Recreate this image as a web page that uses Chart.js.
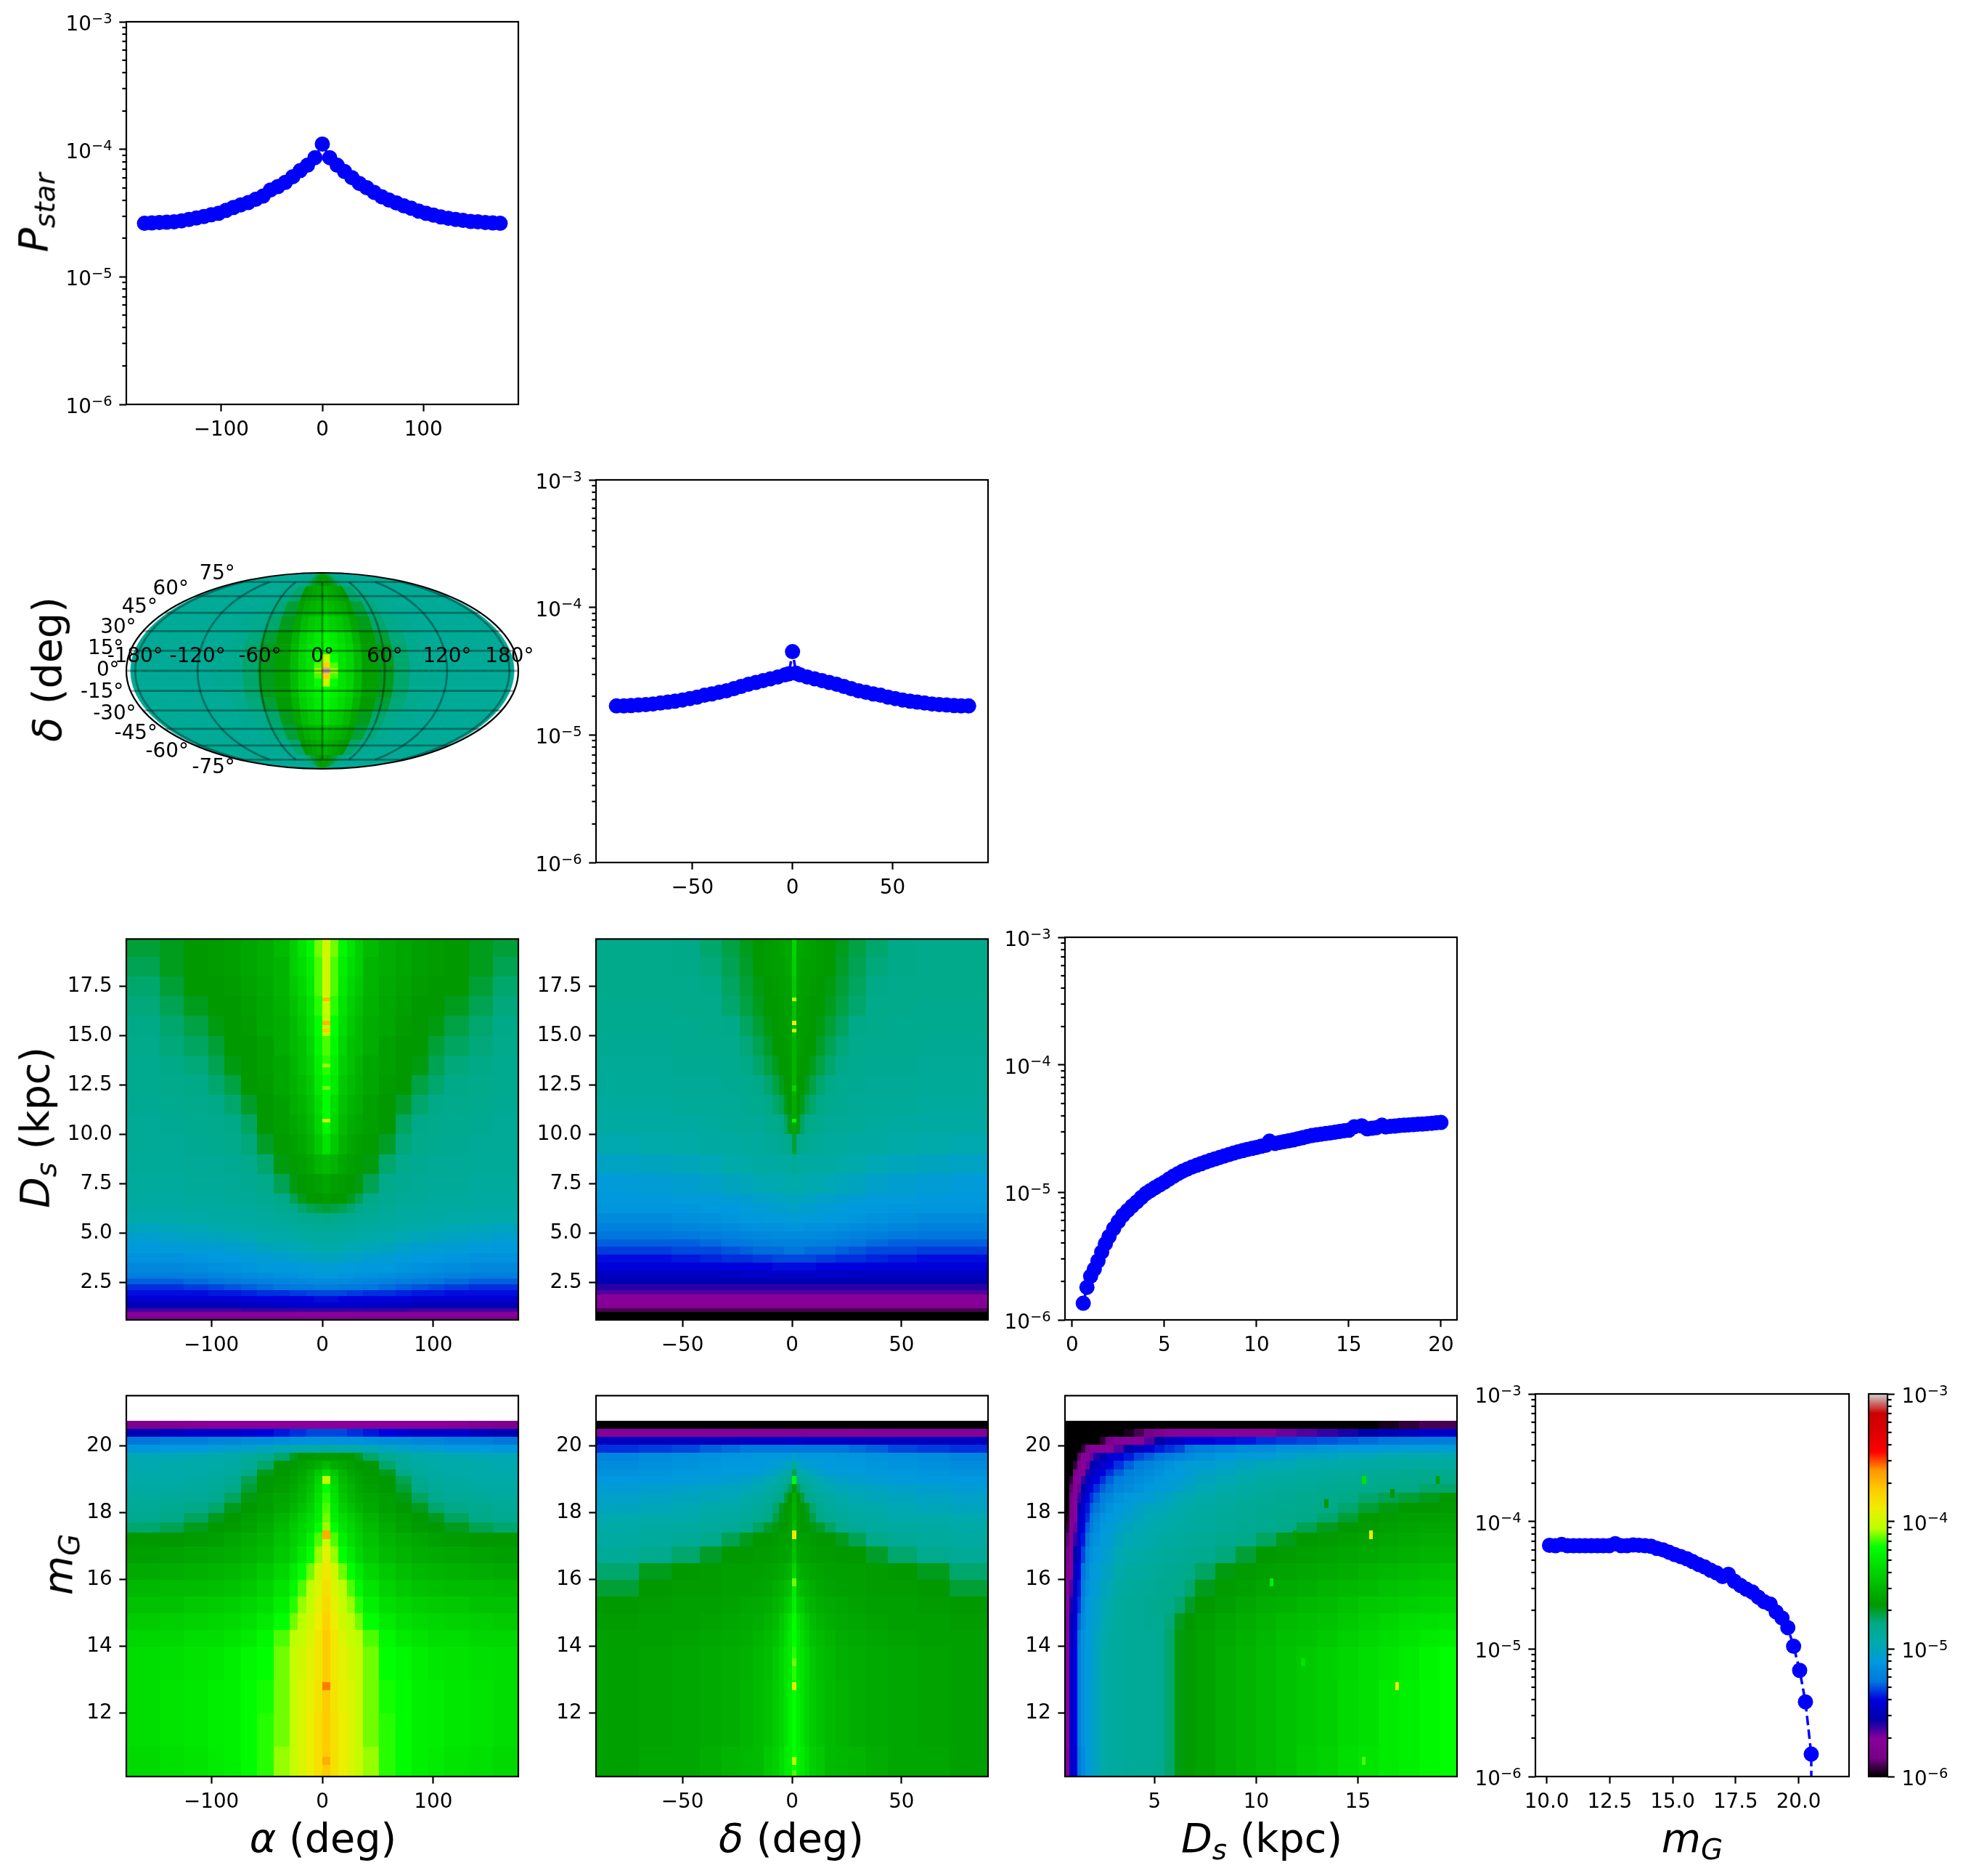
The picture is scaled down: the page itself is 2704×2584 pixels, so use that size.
<!DOCTYPE html>
<html>
<head>
<meta charset="utf-8">
<script src="https://cdn.jsdelivr.net/npm/chart.js@4"></script>
<style>
html,body{margin:0;padding:0;background:#fff;}
#page{position:relative;width:2704px;height:2584px;overflow:hidden;font-family:"DejaVu Sans";color:#000;}
canvas{position:absolute;}
.lab{position:absolute;font-size:55.6px;white-space:nowrap;line-height:1;transform:translate(-50%,-50%);}
.lab.v{transform:translate(-50%,-50%) rotate(-90deg);}
.lab sub{font-size:70%;line-height:0;vertical-align:-0.25em;}
</style>
</head>
<body>
<div id="page"></div>
<script>
// ---- 1D curves (probability per bin)
const alphaBins = [-176,-168.7,-161.3,-154,-146.7,-139.3,-132,-124.7,-117.3,-110,-102.7,-95.3,-88,-80.7,-73.3,-66,-58.7,-51.3,-44,-36.7,-29.3,-22,-14.7,-7.3,0,7.3,14.7,22,29.3,36.7,44,51.3,58.7,66,73.3,80.7,88,95.3,102.7,110,117.3,124.7,132,139.3,146.7,154,161.3,168.7,176];
const alphaProb = [2.63e-5,2.65e-5,2.67e-5,2.68e-5,2.7e-5,2.75e-5,2.82e-5,2.89e-5,2.97e-5,3.07e-5,3.15e-5,3.32e-5,3.5e-5,3.67e-5,3.82e-5,4.05e-5,4.3e-5,4.8e-5,5.1e-5,5.5e-5,6.1e-5,6.8e-5,7.5e-5,8.6e-5,1.1e-4,8.6e-5,7.5e-5,6.7e-5,6e-5,5.4e-5,5e-5,4.6e-5,4.25e-5,4e-5,3.8e-5,3.6e-5,3.45e-5,3.28e-5,3.15e-5,3.05e-5,2.95e-5,2.88e-5,2.82e-5,2.77e-5,2.72e-5,2.7e-5,2.67e-5,2.65e-5,2.63e-5];
const deltaBins = [-88,-84.3,-80.7,-77,-73.3,-69.7,-66,-62.3,-58.7,-55,-51.3,-47.7,-44,-40.3,-36.7,-33,-29.3,-25.7,-22,-18.3,-14.7,-11,-7.3,-3.7,-1.8,0,1.8,3.7,7.3,11,14.7,18.3,22,25.7,29.3,33,36.7,40.3,44,47.7,51.3,55,58.7,62.3,66,69.7,73.3,77,80.7,84.3,88];
const deltaProb = [1.69e-5,1.69e-5,1.7e-5,1.72e-5,1.73e-5,1.75e-5,1.78e-5,1.81e-5,1.84e-5,1.88e-5,1.93e-5,1.98e-5,2.05e-5,2.1e-5,2.16e-5,2.22e-5,2.31e-5,2.4e-5,2.5e-5,2.58e-5,2.67e-5,2.76e-5,2.85e-5,2.96e-5,3.02e-5,4.5e-5,3.05e-5,2.96e-5,2.85e-5,2.76e-5,2.67e-5,2.58e-5,2.5e-5,2.4e-5,2.31e-5,2.22e-5,2.16e-5,2.1e-5,2.05e-5,1.98e-5,1.93e-5,1.88e-5,1.84e-5,1.81e-5,1.78e-5,1.75e-5,1.73e-5,1.72e-5,1.7e-5,1.69e-5,1.69e-5];
const dsBins = [0.6,0.8,1,1.2,1.4,1.6,1.8,2,2.25,2.5,2.75,3,3.25,3.5,3.75,4,4.25,4.5,4.75,5,5.25,5.5,5.75,6,6.25,6.5,6.75,7,7.25,7.5,7.75,8,8.25,8.5,8.75,9,9.25,9.5,9.75,10,10.25,10.5,10.7,11,11.25,11.5,11.75,12,12.25,12.5,12.75,13,13.25,13.5,13.75,14,14.25,14.5,14.75,15,15.3,15.7,16,16.25,16.5,16.8,17,17.25,17.5,17.75,18,18.25,18.5,18.75,19,19.25,19.5,19.75,20];
const dsProb = [1.35e-6,1.8e-6,2.2e-6,2.5e-6,2.9e-6,3.4e-6,3.95e-6,4.5e-6,5.2e-6,5.9e-6,6.6e-6,7.2e-6,7.8e-6,8.4e-6,9.1e-6,9.8e-6,1.035e-5,1.09e-5,1.145e-5,1.2e-5,1.27e-5,1.34e-5,1.405e-5,1.47e-5,1.525e-5,1.58e-5,1.63e-5,1.68e-5,1.73e-5,1.78e-5,1.83e-5,1.88e-5,1.93e-5,1.98e-5,2.03e-5,2.08e-5,2.125e-5,2.17e-5,2.21e-5,2.25e-5,2.3e-5,2.34e-5,2.52e-5,2.42e-5,2.46e-5,2.5e-5,2.54e-5,2.58e-5,2.63e-5,2.68e-5,2.74e-5,2.79e-5,2.83e-5,2.86e-5,2.89e-5,2.92e-5,2.96e-5,3e-5,3.04e-5,3.07e-5,3.27e-5,3.32e-5,3.15e-5,3.18e-5,3.21e-5,3.36e-5,3.26e-5,3.29e-5,3.31e-5,3.34e-5,3.36e-5,3.38e-5,3.4e-5,3.42e-5,3.43e-5,3.46e-5,3.48e-5,3.51e-5,3.53e-5];
const magBins = [10.11,10.35,10.59,10.82,11.06,11.3,11.53,11.77,12.01,12.24,12.48,12.72,12.95,13.19,13.43,13.66,13.9,14.14,14.37,14.61,14.85,15.08,15.32,15.56,15.79,16.03,16.27,16.5,16.74,16.98,17.21,17.45,17.69,17.92,18.16,18.4,18.63,18.87,19.11,19.34,19.57,19.8,20.04,20.27,20.5,20.52];
const magProb = [6.5e-5,6.45e-5,6.6e-5,6.45e-5,6.45e-5,6.45e-5,6.45e-5,6.45e-5,6.45e-5,6.45e-5,6.45e-5,6.7e-5,6.45e-5,6.45e-5,6.55e-5,6.5e-5,6.45e-5,6.4e-5,6.15e-5,6e-5,5.75e-5,5.5e-5,5.3e-5,5.1e-5,4.85e-5,4.6e-5,4.4e-5,4.15e-5,3.95e-5,3.7e-5,3.85e-5,3.4e-5,3.15e-5,2.95e-5,2.8e-5,2.55e-5,2.35e-5,2.25e-5,1.95e-5,1.75e-5,1.47e-5,1.05e-5,6.8e-6,3.85e-6,1.5e-6,1e-7];

// ---- 2D maps: cell edges and cell levels.
// A level is the percent position on the log colour range: 0 = 1e-6, 100 = 1e-3.
const alphaEdges = [-176,-146.7,-124.7,-102.7,-88,-73.3,-58.7,-44,-29.3,-22,-14.7,-7.3,0,7.3,14.7,22,29.3,36.7,51.3,66,80.7,95.3,110,132,154,176];
const deltaEdges = [-89.5,-70,-55,-42,-32,-24,-18,-13,-9,-6,-3.8,-1.9,0,1.9,3.8,5.7,7.9,10.9,14.9,19.9,25.9,33.9,43.9,56.9,71.9,89.5];
const dsRowsA = [19.9,19,18,17,16,15,14,13,12,11,10,9,8,7,6.5,6,5.5,5,4.5,4,3.5,3,2.7,2.4,2.1,1.8,1.5,1.2,1,0.8,0.6];
const dsRowsB = [19.9,19,18,17,16,15,14,13,12,11,10,9,8,7,6.5,6,5.5,5.1,4.7,4.3,3.9,3.5,3.1,2.7,2.4,2.1,1.9,1.5,1.2,1,0.6];
const magRows = [20.74,20.5,20.27,20.03,19.8,19.56,19.3,19.1,18.85,18.6,18.3,18,17.7,17.4,17,16.5,16,15.5,15,14.5,14,13,12,11,10.11];
const dsCols = [0.6,0.8,1,1.2,1.4,1.6,1.8,2,2.3,2.6,3,3.5,4,4.5,5,5.5,6,6.5,7,8,9,10,11,12,13,14,15,16,17,18,19,19.87];
const latEdges = [90,70,55,42,30,20,12,6,2,-2,-6,-12,-20,-30,-42,-55,-70,-90];

const levelsAlphaDs = [
[43,44,45,45.5,46,47,48,50,53,56,59,63,67,63,59,56,53,50,48,47,46,45.5,45,44,43],
[42,44,45,45.5,46,47,48,49,53,55,58,62,67,62,58,55,53,49,48,47,46,45.5,45,44,42],
[41,43,45,45,45.5,46.5,47.5,49,52,54,57,62,67,62,57,54,52,49,47.5,46.5,45.5,45,45,43,41],
[40.5,42,44,45,45,46,47,48.5,51,53,56,61,66,61,56,53,51,48.5,47,46,45,45,44,42,40.5],
[40,41,42.5,44.5,45,45.5,47,48,50,52,55,60,65,60,55,52,50,48,47,45.5,45,44.5,42.5,41,40],
[39.5,40.5,41.5,43,45,45,46,48,50,51,54,59,62,59,54,51,50,48,46,45,45,43,41.5,40.5,39.5],
[39,40,40.5,42,44.5,45,46,47,49,51,53,58,61,58,53,51,49,47,46,45,44.5,42,40.5,40,39],
[39,39.5,40,41,42.5,45,45.5,47,48.5,50,52,57,60,57,52,50,48.5,47,45.5,45,42.5,41,40,39.5,39],
[38.5,39,39.5,40,41,43.5,45,46,48,49,51,55,60,55,51,49,48,46,45,43.5,41,40,39.5,39,38.5],
[38,38.5,39,39.5,40,41.5,45,46,47,48,50,54,59,54,50,48,47,46,45,41.5,40,39.5,39,38.5,38],
[38,38,38.5,39,39.5,40.5,43.5,45.5,46,47,49,52,56,52,49,47,46,45.5,43.5,40.5,39.5,39,38.5,38,38],
[37.5,37.5,38,38,38.5,39.5,41,44.5,45.5,46,47,49,50,49,47,46,45.5,44.5,41,39.5,38.5,38,38,37.5,37.5],
[37,37,37.5,37.5,38,38.5,39.5,42,44.5,45,45.5,46,47,46,45.5,45,44.5,42,39.5,38.5,38,37.5,37.5,37,37],
[36.5,36.5,37,37,37.5,38,38.5,40,42,44,45,45,45.5,45,45,44,42,40,38.5,38,37.5,37,37,36.5,36.5],
[36,36,36.5,36.5,37,37,38,39,40,41,42,42.5,43,42.5,42,41,40,39,38,37,37,36.5,36.5,36,36],
[35,35,35.5,36,36,36.5,37,37.5,38,38.5,39,39.5,40,39.5,39,38.5,38,37.5,37,36.5,36,36,35.5,35,35],
[33,33.5,34,34.5,35,35.5,36,36.5,37,37.5,37.5,38,38,38,37.5,37.5,37,36.5,36,35.5,35,34.5,34,33.5,33],
[31.5,32,32.5,33,33.5,34,35,35,35.5,36,36,36.5,36.5,36.5,36,36,35.5,35,35,34,33.5,33,32.5,32,31.5],
[30,30.5,31,31,31.5,32,33,33.5,34,34,34.5,35,35,35,34.5,34,34,33.5,33,32,31.5,31,31,30.5,30],
[29,29,29.5,30,30,30.5,31,31.5,32,32,32.5,33,33,33,32.5,32,32,31.5,31,30.5,30,30,29.5,29,29],
[27.5,27.5,28,28.5,29,29.5,30,30,30,30.5,30.5,31,31,31,30.5,30.5,30,30,30,29.5,29,28.5,28,27.5,27.5],
[26,26,26.5,27,27.5,28,28.5,29,29,29.5,29.5,30,30,30,29.5,29.5,29,29,28.5,28,27.5,27,26.5,26,26],
[24,24,24.5,25,25.5,26,26.5,27,27.5,27.5,28,28,28,28,28,27.5,27.5,27,26.5,26,25.5,25,24.5,24,24],
[22,22,22.5,23,23.5,24,24.5,25,25.5,25.5,25.5,26,26,26,25.5,25.5,25.5,25,24.5,24,23.5,23,22.5,22,22],
[20.5,20.5,20.5,21,21,21.5,22,22,22.5,22.5,23,23,23,23,23,22.5,22.5,22,22,21.5,21,21,20.5,20.5,20.5],
[19,19,19,19,19,19.5,20,20,20,20,20,20.5,20.5,20.5,20,20,20,20,20,19.5,19,19,19,19,19],
[16,16,16,16,16.5,17,17,17.5,18,18,18,18,18,18,18,18,18,17.5,17,17,16.5,16,16,16,16],
[12.5,12.5,12.5,12.5,12.5,13,13,13,13,13,13,13,13,13,13,13,13,13,13,13,12.5,12.5,12.5,12.5,12.5],
[10,10,10,10,10,10,10,10,10,10,10,10,10,10,10,10,10,10,10,10,10,10,10,10,10],
[7,7,7,7,7,7,7,7,7,7.5,7.5,7.5,7.5,7.5,7.5,7.5,7,7,7,7,7,7,7,7,7]
];
const levelsDeltaDs = [
[39.5,39.5,40,41,42.5,44,45,45.5,46,46.5,47,47,54,47,47,46.5,46,45.5,45,44,42.5,41,40,39.5,39.5],
[39.5,39.5,40,40.5,42,43.5,45,45.5,46,46,46.5,47,53,47,46.5,46,46,45.5,45,43.5,42,40.5,40,39.5,39.5],
[39.5,39.5,39.5,40,41.5,43,44.5,45,45.5,46,46,46.5,52,46.5,46,46,45.5,45,44.5,43,41.5,40,39.5,39.5,39.5],
[39,39,39.5,39.5,41,42.5,44,45,45,45.5,46,46,51,46,46,45.5,45,45,44,42.5,41,39.5,39.5,39,39],
[39,39,39,39.5,40,41.5,43,44.5,45,45.5,45.5,46,50,46,45.5,45.5,45,44.5,43,41.5,40,39.5,39,39,39],
[38.5,38.5,39,39,39.5,40.5,42,43.5,45,45,45.5,46,49,46,45.5,45,45,43.5,42,40.5,39.5,39,39,38.5,38.5],
[38,38,38.5,38.5,39,40,41,42.5,44,45,45,45.5,49,45.5,45,45,44,42.5,41,40,39,38.5,38.5,38,38],
[37.5,37.5,38,38,38.5,39,40,41,42.5,44,45,45,49,45,45,44,42.5,41,40,39,38.5,38,38,37.5,37.5],
[37,37,37.5,37.5,38,38.5,39,40,41,42,44,45,48,45,44,42,41,40,39,38.5,38,37.5,37.5,37,37],
[36,36,36.5,37,37.5,38,38,39,39.5,40,41.5,44,47,44,41.5,40,39.5,39,38,38,37.5,37,36.5,36,36],
[34.5,35,35.5,36,36.5,37,37,37.5,38,38.5,39,40,43,40,39,38.5,38,37.5,37,37,36.5,36,35.5,35,34.5],
[32.5,33,33.5,34,35,35.5,36,36,36.5,36.5,36.5,37,37.5,37,36.5,36.5,36.5,36,36,35.5,35,34,33.5,33,32.5],
[30.5,31,31.5,32,33,33.5,34,34.5,34.5,34.5,35,35,35,35,35,34.5,34.5,34.5,34,33.5,33,32,31.5,31,30.5],
[30,30,30.5,30.5,31,31.5,32,32,32.5,32.5,33,33,33,33,33,32.5,32.5,32,32,31.5,31,30.5,30.5,30,30],
[29.5,29.5,29.5,30,30,30.5,31,31,31.5,31.5,31.5,32,32,32,31.5,31.5,31.5,31,31,30.5,30,30,29.5,29.5,29.5],
[28,28,28.5,29,29.5,30,30,30.5,30.5,30.5,30.5,31,31,31,30.5,30.5,30.5,30.5,30,30,29.5,29,28.5,28,28],
[26.5,26.5,27,27.5,28,28.5,29,29,29,29,29.5,29.5,29.5,29.5,29.5,29,29,29,29,28.5,28,27.5,27,26.5,26.5],
[25,25,25.5,26,26.5,27,27.5,27.5,28,28,28,28,28,28,28,28,28,27.5,27.5,27,26.5,26,25.5,25,25],
[24,24,24,24.5,25,25.5,26,26,26.5,26.5,26.5,26.5,26.5,26.5,26.5,26.5,26.5,26,26,25.5,25,24.5,24,24,24],
[22.5,22.5,23,23,23.5,24,24.5,24.5,24.5,24.5,25,25,25,25,25,24.5,24.5,24.5,24.5,24,23.5,23,23,22.5,22.5],
[20.5,20.5,21,21.5,22,22,22.5,22.5,23,23,23,23,23,23,23,23,23,22.5,22.5,22,22,21.5,21,20.5,20.5],
[19.5,19.5,19.5,19.5,20,20,20,20,20.5,20.5,20.5,20.5,20.5,20.5,20.5,20.5,20.5,20,20,20,20,19.5,19.5,19.5,19.5],
[17.5,17.5,17.5,17.5,17.5,18,18,18,18,18,18,18,18,18,18,18,18,18,18,18,17.5,17.5,17.5,17.5,17.5],
[15.5,15.5,15.5,15.5,15.5,15.5,15.5,15.5,15.5,15.5,15.5,15.5,15.5,15.5,15.5,15.5,15.5,15.5,15.5,15.5,15.5,15.5,15.5,15.5,15.5],
[13.5,13.5,13.5,13.5,13.5,13.5,13.5,13.5,13.5,13.5,13.5,13.5,13.5,13.5,13.5,13.5,13.5,13.5,13.5,13.5,13.5,13.5,13.5,13.5,13.5],
[12,12,12,12,12,12,12,12,12,12,12,12,12,12,12,12,12,12,12,12,12,12,12,12,12],
[10,10,10,10,10,10,10,10,10,10,10,10,10,10,10,10,10,10,10,10,10,10,10,10,10],
[8.5,8.5,8.5,8.5,8.5,8.5,8.5,8.5,8.5,8.5,8.5,8.5,8.5,8.5,8.5,8.5,8.5,8.5,8.5,8.5,8.5,8.5,8.5,8.5,8.5],
[3,3,3,3,3,3,3,3,3,3,3,3,3,3,3,3,3,3,3,3,3,3,3,3,3],
[0,0,0,0,0,0,0,0,0,0,0,0,0,0,0,0,0,0,0,0,0,0,0,0,0]
];
const levelsAlphaMag = [
[7,8,9,10,10,10,10,10,10,10,10,10,10,10,10,10,10,10,10,10,10,10,9,8,7],
[16,17,18,18,18,19,20,21,22,22,23,23,23,23,23,22,22,21,20,19,18,18,18,17,16],
[25,26,26,27,27,28,28,28.5,29,29,29,29,29,29,29,29,29,28.5,28,28,27,27,26,26,25],
[29.5,30,30,31,31.5,32,33,34,34.5,35,35,35.5,36,35.5,35,35,34.5,34,33,32,31.5,31,30,30,29.5],
[34,34,34.5,35,35.5,37,38.5,41,44,45,45,45.5,45.5,45.5,45,45,44,41,38.5,37,35.5,35,34.5,34,34],
[34.5,35,35,35.5,36,38,41,45,45,46,47,48,50,48,47,46,45,45,41,38,36,35.5,35,35,34.5],
[35,35,35.5,36,37,40,44,45,46,47,49,52,55,52,49,47,46,45,44,40,37,36,35.5,35,35],
[35.5,35.5,36,37,38.5,42,45,45.5,46.5,48,50,54,66,54,50,48,46.5,45.5,45,42,38.5,37,36,35.5,35.5],
[36,36,37,38,40,43,45,46,47,49,51,55,60,55,51,49,47,46,45,43,40,38,37,36,36],
[37,37.5,38,39,41.5,44.5,46,47,48,49.5,52,56,61,56,52,49.5,48,47,46,44.5,41.5,39,38,37.5,37],
[38,39,40,41,44,45,46,47.5,49,51,53,57,62,57,53,51,49,47.5,46,45,44,41,40,39,38],
[39,40,41.5,44,45,46,47,49,51,53,55,58,63,58,55,53,51,49,47,46,45,44,41.5,40,39],
[41,42,44,45,45.5,46.5,48,50,52,54,56,60,64,60,56,54,52,50,48,46.5,45.5,45,44,42,41],
[45,45,45.5,46,47,48,49,51,53,55,58,62,66,62,58,55,53,51,49,48,47,46,45.5,45,45],
[46,46.5,47,47.5,48,49,50,52,54,57,60,64,69,64,60,57,54,52,50,49,48,47.5,47,46.5,46],
[47.5,48,48.5,49,49.5,50.5,52,54,57,60,63,67,71,67,63,60,57,54,52,50.5,49.5,49,48.5,48,47.5],
[49.5,50,50,50.5,51,52,53.5,56,59,62,65,68,72,68,65,62,59,56,53.5,52,51,50.5,50,50,49.5],
[51,51,52,52.5,53,54,55,58,61,64,66,69,73,69,66,64,61,58,55,54,53,52.5,52,51,51],
[52.5,53,53.5,54,54.5,55.5,57,60,63,65,67,70,74,70,67,65,63,60,57,55.5,54.5,54,53.5,53,52.5],
[54,54,55,55,56,57,59,62,65,66,68,71,75,71,68,66,65,62,59,57,56,55,55,54,54],
[55,55.5,56,56.5,57.5,59,60,63,66,67,69,71,75,71,69,67,66,63,60,59,57.5,56.5,56,55.5,55],
[55,56,56.5,57.5,58,59.5,60.5,63,66,68,69.5,71.5,75,71.5,69.5,68,66,63,60.5,59.5,58,57.5,56.5,56,55],
[55,56,56.5,57.5,58,59.5,61,63,66,68,70,72,75,72,70,68,66,63,61,59.5,58,57.5,56.5,56,55],
[54.5,55.5,56,57,58,59.5,61,64,66,68,70,72,75,72,70,68,66,64,61,59.5,58,57,56,55.5,54.5]
];
const levelsDeltaMag = [
[0,0,0,0,0,0,0,0,0,0,0,0,0,0,0,0,0,0,0,0,0,0,0,0,0],
[9,9,9,9,9,9,9,9,9,9,9,9,9,9,9,9,9,9,9,9,9,9,9,9,9],
[17,17,17,17,17,17.5,17.5,17.5,17.5,17.5,18,18,18,18,18,17.5,17.5,17.5,17.5,17.5,17,17,17,17,17],
[22,22.5,23,24,24.5,25,25,25,25,25,25,25,25,25,25,25,25,25,25,25,24.5,24,23,22.5,22],
[27,28,28.5,29,29.5,29.5,30,30,30,30,30,30,32,30,30,30,30,30,30,29.5,29.5,29,28.5,28,27],
[28,28.5,29,29.5,30,30,30,30.5,31,31.5,32,33,38,33,32,31.5,31,30.5,30,30,30,29.5,29,28.5,28],
[29,29.5,30,30,30.5,30.5,31,32,33,34,35,36,42,36,35,34,33,32,31,30.5,30.5,30,30,29.5,29],
[30,30,30.5,31,31.5,32,33,34,35,36,37,38,60,38,37,36,35,34,33,32,31.5,31,30.5,30,30],
[31,31.5,32,32.5,33,33.5,34.5,35.5,37,38,40,42,46,42,40,38,37,35.5,34.5,33.5,33,32.5,32,31.5,31],
[32,32.5,33,33.5,34,35,36,37,39,40,43,45,48,45,43,40,39,37,36,35,34,33.5,33,32.5,32],
[33,33.5,34,35,35.5,36,37.5,39,41,44,45,45.5,49,45.5,45,44,41,39,37.5,36,35.5,35,34,33.5,33],
[34.5,35,35,36,36.5,37.5,38.5,40,42.5,44.5,45,46,49,46,45,44.5,42.5,40,38.5,37.5,36.5,36,35,35,34.5],
[35.5,36,36.5,37,38,39.5,41.5,43.5,44.5,45,45,46,50,46,45,45,44.5,43.5,41.5,39.5,38,37,36.5,36,35.5],
[36.5,37,38,39.5,42,44,45,45,45.5,46,46,46,50,46,46,46,45.5,45,45,44,42,39.5,38,37,36.5],
[38,39,41,43.5,45,45,45.5,45.5,46,46.5,46.5,47,51,47,46.5,46.5,46,45.5,45.5,45,45,43.5,41,39,38],
[41,44,45,45.5,46,46,46,46.5,47,47.5,48,49,54,49,48,47.5,47,46.5,46,46,46,45.5,45,44,41],
[43,45,45.5,45.5,46,46,46.5,47,48,49,50,51,57,51,50,49,48,47,46.5,46,46,45.5,45.5,45,43],
[45,45.5,46,46,46.5,47,47.5,48,49,50,52,53,58,53,52,50,49,48,47.5,47,46.5,46,46,45.5,45],
[45.5,46,46,46.5,47,47.5,48,49,50,52,54,56,60,56,54,52,50,49,48,47.5,47,46.5,46,46,45.5],
[46,46,46.5,47,47.5,48,49,50,51,53,55,57,60,57,55,53,51,50,49,48,47.5,47,46.5,46,46],
[46,46.5,47,47.5,48,48.5,49.5,50.5,52,54,56,57,61,57,56,54,52,50.5,49.5,48.5,48,47.5,47,46.5,46],
[46,46.5,47,47.5,48,49,50,51,52.5,54,56,58,60,58,56,54,52.5,51,50,49,48,47.5,47,46.5,46],
[46,46.5,47,47.5,48,49,50,51,52.5,54,56,58,60,58,56,54,52.5,51,50,49,48,47.5,47,46.5,46],
[46,47,47,48,49,49.5,50,52,53,55,57,58,60,58,57,55,53,52,50,49.5,49,48,47,47,46]
];
const levelsDsMag = [
[0,0,0,0,0,0,0,0,0,0,0,0,0,0,0,0,0,0,0,0,0,0,0,0,0,0,0,1,2,3,3],
[0,0,0,0,0,0,0,0,0,0,0,1,3,5,7,9,10,10,10,10,10,10,11,12,13,14,15,16,17,18,18],
[0,0,0,0,0,0,0,0,2,6,9,9,10,12,15,17,18,20,20,20.5,21,22,22.5,23,23.5,24,24.5,25,25.5,25.5,26],
[0,0,0,0,2,7,10,10,10,10,12,15,17,19,21,22,23,25,26,27,28,28,29,29,29.5,30,30,30,30.5,30.5,31],
[0,0,0,4,9,10,11,14,16,18,20,21,23,24,25,26,27,28,29,30,31,31,32,33,33,34,34,35,35,35,35],
[0,0,2,8,10,11,15,17,18,20,22,24,26,27,28,29,30,31,31,32,33,34,34,35,35,35.5,36,36,36.5,37,37],
[0,0,6,10,10,14,17,19,20,22,24,26,27,28,29,30,30.5,31,32,33,34,35,35.5,36,36.5,37,38,38,38.5,39,39],
[0,2,9,10,13,17,19,20,22,24,26,27,28,29,30,30.5,31,32,33,34,35,36,36.5,37,37.5,38,38.5,39,39.5,39.5,40],
[0,4,9,11,15,18,20,22,24,25,27,28,29,30,31,31,32,33,34,35,36,37,37.5,38,38.5,39,39.5,40,40,41,41],
[0,5,10,13,17,20,22,24,26,27,29,30,30.5,31,32,33,34,34.5,35.5,36.5,37,38,38.5,39,39.5,40,41,42,43,44,45],
[0,7,10,15,19,21,24,25,27,29,30,31,32,33,33.5,34,35,35.5,36,37,38,38.5,39,39.5,40,41,43,44.5,45,45,45.5],
[1,8,10,17,19,22,25,27,29,30,31,32,33,34,34.5,35,35.5,36,37,37.5,38,39,39.5,40,41,43,45,45.5,46,46,46.5],
[2,9,11,18,20,24,26,28,30,30.5,32,33,34,34.5,35,35.5,36,36.5,37,38,38.5,39,40,42,44,45,45.5,46,46.5,47,47],
[4,10,13,19,21,25,28,29,30.5,31,33,34,34.5,35,36,36.5,37,37.5,38,39,40,41.5,44,45,45.5,46,46.5,47,47.5,48,48],
[6,10,15,19,23,27,29,30,31,32,34,35,35.5,36,37,37.5,38,38.5,39,40.5,43,45,45.5,46,46.5,47,47.5,48,48.5,49,49],
[8,10,17,20,25,28,30,30.5,32,33,35,36,36.5,37,38,38.5,39,40,41.5,44.5,45.5,46,46.5,47,47.5,48,49,49.5,50,50.5,51],
[9,12,18,21,26,29,30,31,33,34,36,37,37.5,38,38.5,39,39.5,41,44,45.5,46,47,47.5,48,49,49.5,50,51,51.5,52,52.5],
[10,14,19,22,27,30,30.5,32,33.5,35,37,37.5,38,38.5,39,39.5,41,43.5,45,46,47,48,48.5,49.5,50,51,52,52.5,53,53.5,54],
[10,16,19,24,28,30,31,32,34,35.5,37,37.5,38,38.5,39,40.5,44,45,46,47,48,49,50,50.5,51,52,53,54,55,55.5,56],
[10,17,19.5,25,29,30,31,33,34.5,36,37,37.5,38,38,38.5,41,44.5,45.5,46.5,47.5,48.5,49.5,50.5,51,52,53,54,55,56,57,58],
[10,18,20,26,29,30,31,33,35,36,37,37.5,38,38,38.5,41,44.5,45.5,46.5,48,49,50,51,52,53,54,55,56,57,58.5,60],
[10,18,20,26,29,30,31.5,33,35,36,37,37.5,38,38,38.5,41,44.5,45.5,46.5,48,49,50,51,52,53,54.5,55.5,57,58,59,60],
[10,18,20,26,29,30,31.5,33,35,36,37,37.5,38,38,38.5,41,44.5,45.5,46.5,48,49,50,51,52,53,54.5,55.5,57,58,59,60],
[9,18,19,25,28,30,31.5,33,35,36,37,37.5,38,38,38.5,41,44.5,45.5,46.5,48,49,50,51,52.5,53.5,55,56,57,58,59,60]
];
const levelsSky = [
[38,38,38,38,38,38,38.5,39.5,41,43,44,45,46,45,44,43,41,39.5,38.5,38,38,38,38,38,38],
[38,38,38,38,38,38.5,39.5,41,45,46,47,48,49,48,47,46,45,41,39.5,38.5,38,38,38,38,38],
[38,38,38,38,38,39,40.5,43,46,48,49,50,51,50,49,48,46,43,40.5,39,38,38,38,38,38],
[38,38,38,38,38.5,39.5,41,44,47,50,52,53,55,53,52,50,47,44,41,39.5,38.5,38,38,38,38],
[38,38,38,38,39,40.5,43,45.5,49,53,55,57,59,57,55,53,49,45.5,43,40.5,39,38,38,38,38],
[38,38,38,38.5,39,41,44,46,50,54,56,58,60,58,56,54,50,46,44,41,39,38.5,38,38,38],
[38,38,38,38.5,39,41,44,46,50,54,56,60,66,60,56,54,50,46,44,41,39,38.5,38,38,38],
[38,38,38,38.5,39,41,44,46,50,54,56,62,74,62,56,54,50,46,44,41,39,38.5,38,38,38],
[38,38,38,38.5,39,41,44,46,50,54,56,64,99,64,56,54,50,46,44,41,39,38.5,38,38,38],
[38,38,38,38.5,39,41,44,46,50,54,56,62,74,62,56,54,50,46,44,41,39,38.5,38,38,38],
[38,38,38,38.5,39,41,44,46,50,54,56,60,66,60,56,54,50,46,44,41,39,38.5,38,38,38],
[38,38,38,38.5,39,41,44,46,50,54,56,58,60,58,56,54,50,46,44,41,39,38.5,38,38,38],
[38,38,38,38,39,40.5,43,45.5,49,53,55,57,59,57,55,53,49,45.5,43,40.5,39,38,38,38,38],
[38,38,38,38,38.5,39.5,41,44,47,50,52,53,55,53,52,50,47,44,41,39.5,38.5,38,38,38,38],
[38,38,38,38,38,39,40.5,43,46,48,49,50,51,50,49,48,46,43,40.5,39,38,38,38,38,38],
[38,38,38,38,38,38.5,39.5,41,45,46,47,48,49,48,47,46,45,41,39.5,38.5,38,38,38,38,38],
[38,38,38,38,38,38,38.5,39.5,41,43,44,45,46,45,44,43,41,39.5,38.5,38,38,38,38,38,38]
];
// single bright cells: [x from, x to, y from, y to, level]
const spikesAlphaDs = [[0,7.3,10.6,10.8,66],[0,7.3,12.25,12.45,63],[0,7.3,13.4,13.6,64],[0,7.3,15.15,15.35,75],[0,7.3,15.55,15.75,77],[0,7.3,16.75,16.95,77]];
const spikesDeltaDs = [[0,1.9,10.6,10.8,60],[0,1.9,12.2,12.5,54],[0,1.9,15.15,15.35,66],[0,1.9,15.55,15.75,70],[0,1.9,16.75,16.95,65]];
const spikesAlphaMag = [[0,7.3,10.46,10.7,78],[0,7.3,12.7,12.94,81],[0,7.3,17.22,17.46,78]];
const spikesDeltaMag = [[0,1.9,10.1,10.3,62],[0,1.9,10.46,10.7,65],[0,1.9,12.7,12.94,71],[0,1.9,13.4,13.65,63],[0,1.9,15.8,16.04,63],[0,1.9,17.22,17.46,71]];
const spikesDsMag = [[15.2,15.4,18.85,19.1,56],[15.55,15.72,17.22,17.46,70],[16.85,17,12.7,12.94,70],[15.2,15.38,10.46,10.7,62],[10.65,10.85,15.8,16.04,58],[12.2,12.4,13.4,13.65,56],[13.35,13.55,18.15,18.4,45],[11.8,11.98,17.22,17.46,46],[12,12.15,16.25,16.5,47],[16.1,16.3,10.1,10.3,58],[18.85,19,18.85,19.1,46],[16.6,16.8,18.45,18.7,45]];

// ---- axis ticks
const logTicks = [1e-6,1e-5,1e-4,1e-3];
const logExponents = ['−6','−5','−4','−3'];
const minorMantissas = [2,3,4,5,6,7,8,9];
const alphaTicks = [-100,0,100];
const alphaLabels = ['−100','0','100'];
const deltaTicks = [-50,0,50];
const deltaLabels = ['−50','0','50'];
const dsYTicks = [2.5,5,7.5,10,12.5,15,17.5];
const dsYLabels = ['2.5','5.0','7.5','10.0','12.5','15.0','17.5'];
const magYTicks = [12,14,16,18,20];
const magYLabels = ['12','14','16','18','20'];
const dsXTicks = [0,5,10,15,20];
const dsXLabels = ['0','5','10','15','20'];
const dsHeatTicks = [5,10,15];
const dsHeatLabels = ['5','10','15'];
const magXTicks = [10,12.5,15,17.5,20];
const magXLabels = ['10.0','12.5','15.0','17.5','20.0'];

// sky map grid
const skyLonTicks = [-171.9,-114.6,-57.3,0,57.3,114.6,171.9];
const skyLonLabels = ['-180°','-120°','-60°','0°','60°','120°','180°'];
const skyLatTicks = [75,60,45,30,15,0,-15,-30,-45,-60,-75];
const skyLatLabels = ['75°','60°','45°','30°','15°','0°','-15°','-30°','-45°','-60°','-75°'];

// nipy_spectral stops
const cmapStops = [[0,0,0],[.4667,0,.5333],[.5333,0,.6],[0,0,.6667],[0,0,.8667],[0,.4667,.8667],[0,.6,.8667],[0,.6667,.6667],[0,.6667,.5333],[0,.6,0],[0,.7333,0],[0,.8667,0],[0,1,0],[.7333,1,0],[.9333,.9333,0],[1,.8,0],[1,.6,0],[1,0,0],[.8667,0,0],[.8,0,0],[.8,.8,.8]];

const FONT = '"DejaVu Sans"';
const TICK_FONT = 27.8, TICK = 9.7, MINOR = 5.6, LW = 2.2, TICK_PAD = 9.7;
const PAD = {l:110,t:24,r:24,b:64};
const colX = [174,821,1467,2115];
const rowY = [30,661,1291,1920];
const ROW_H = 527;
const page = document.getElementById('page');

function levelColor(level){
  const t = Math.min(Math.max(level,0),100)/5;
  const i = Math.min(Math.floor(t),19), f = t-i;
  const a = cmapStops[i], b = cmapStops[i+1];
  const c = [0,1,2].map(k=>Math.round(255*(a[k]+(b[k]-a[k])*f)));
  return 'rgb('+c.join(',')+')';
}

function makeCanvas(x,y,w,h,pad){
  const c = document.createElement('canvas');
  c.width = w+pad.l+pad.r; c.height = h+pad.t+pad.b;
  c.style.left = (x-pad.l)+'px'; c.style.top = (y-pad.t)+'px';
  page.appendChild(c);
  return c;
}

function axis(position,min,max,ticks,labels,type,pad){
  const horizontal = position==='bottom';
  const log = type==='logarithmic';
  return {
    type:type||'linear', position, min, max,
    border:{display:false},
    grid:{drawOnChartArea:false,drawTicks:true,tickLength:TICK,tickWidth:LW,tickColor:'#000'},
    ticks:{display:!log,padding:TICK_PAD,color:'#000',font:{family:FONT,size:TICK_FONT},autoSkip:false,maxRotation:0,minRotation:0,callback:(v,i)=>labels?labels[i]:''},
    afterBuildTicks:s=>{s.ticks = ticks.map(v=>({value:v}));},
    afterFit:s=>{ if(horizontal) s.height = pad.b; else s.width = position==='left'?pad.l:pad.r; }
  };
}

// frame, the short log ticks and the 10^n labels with a proper raised exponent
const framePlugin = {
  id:'frame',
  afterDraw(chart){
    const {ctx,chartArea:a,scales} = chart;
    ctx.save();
    ctx.strokeStyle = '#000'; ctx.lineWidth = LW;
    const y = scales.y;
    if(y && y.type==='logarithmic'){
      const right = y.position==='right';
      for(let d=-6;d<-3;d++) for(const m of minorMantissas){
        const p = Math.round(y.getPixelForValue(m*Math.pow(10,d)));
        ctx.beginPath();
        if(right){ctx.moveTo(a.right,p);ctx.lineTo(a.right+MINOR,p);}
        else{ctx.moveTo(a.left,p);ctx.lineTo(a.left-MINOR,p);}
        ctx.stroke();
      }
      ctx.fillStyle = '#000';ctx.textBaseline = 'alphabetic';ctx.textAlign = 'left';
      const big = TICK_FONT+'px '+FONT, small = (TICK_FONT*0.7)+'px '+FONT;
      logTicks.forEach((v,i)=>{
        const p = y.getPixelForValue(v)+12;
        ctx.font = big;const w10 = ctx.measureText('10').width;
        ctx.font = small;const wExp = ctx.measureText(logExponents[i]).width;
        const x0 = right ? a.right+TICK+TICK_PAD : a.left-TICK-TICK_PAD-w10-wExp;
        ctx.font = big;ctx.fillText('10',x0,p);
        ctx.font = small;ctx.fillText(logExponents[i],x0+w10,p-10.5);
      });
    }
    ctx.strokeRect(a.left,a.top,a.right-a.left,a.bottom-a.top);
    ctx.restore();
  }
};

function curvePanel(col,row,xs,ys,xMin,xMax,xTicks,xLabels){
  const w = colX[col]===2115?432:540;
  const canvas = makeCanvas(colX[col],rowY[row],w,ROW_H,PAD);
  new Chart(canvas,{
    type:'scatter',
    data:{datasets:[{data:xs.map((x,i)=>({x,y:ys[i]})),showLine:true,borderColor:'#0000ff',borderWidth:3.5,borderDash:[13,6],backgroundColor:'#0000ff',pointRadius:10.5,pointBorderWidth:0,pointHoverRadius:10.5}]},
    options:{
      responsive:false,animation:false,devicePixelRatio:1,
      layout:{padding:{top:PAD.t,right:PAD.r,left:0,bottom:0}},
      plugins:{legend:{display:false},tooltip:{enabled:false}},
      events:[],
      scales:{
        x:axis('bottom',xMin,xMax,xTicks,xLabels,'linear',PAD),
        y:axis('left',1e-6,1e-3,logTicks,null,'logarithmic',PAD)
      }
    },
    plugins:[framePlugin]
  });
}

function heatPanel(col,row,xEdges,yEdges,levels,spikes,xr,yr,xTicks,xLabels,yTicks,yLabels){
  const canvas = makeCanvas(colX[col],rowY[row],540,ROW_H,PAD);
  const cells = {
    id:'cells',
    beforeDatasetsDraw(chart){
      const {ctx,scales:{x,y}} = chart;
      const fill = (x0,x1,y0,y1,l)=>{
        const px0 = Math.round(x.getPixelForValue(x0)), px1 = Math.round(x.getPixelForValue(x1));
        const py0 = Math.round(y.getPixelForValue(y0)), py1 = Math.round(y.getPixelForValue(y1));
        ctx.fillStyle = levelColor(l);
        ctx.fillRect(px0,Math.min(py0,py1),px1-px0,Math.abs(py1-py0));
      };
      levels.forEach((r,j)=>r.forEach((l,i)=>fill(xEdges[i],xEdges[i+1],yEdges[j],yEdges[j+1],l)));
      spikes.forEach(s=>fill(s[0],s[1],s[2],s[3],s[4]));
    }
  };
  new Chart(canvas,{
    type:'scatter',
    data:{datasets:[]},
    options:{
      responsive:false,animation:false,devicePixelRatio:1,
      layout:{padding:{top:PAD.t,right:PAD.r,left:0,bottom:0}},
      plugins:{legend:{display:false},tooltip:{enabled:false}},
      events:[],
      scales:{
        x:axis('bottom',xr[0],xr[1],xTicks,xLabels,'linear',PAD),
        y:axis('left',yr[0],yr[1],yTicks,yLabels,'linear',PAD)
      }
    },
    plugins:[cells,framePlugin]
  });
}

// Mollweide projection, lon/lat in degrees, onto the chart's x/y scales
function mollweide(lon,lat){
  const phi = lat*Math.PI/180;
  let th = phi;
  if(Math.abs(lat)>=90) th = phi;
  else for(let k=0;k<40;k++){
    th -= (2*th+Math.sin(2*th)-Math.PI*Math.sin(phi))/(2+2*Math.cos(2*th));
  }
  return [2*Math.SQRT2/Math.PI*(lon*Math.PI/180)*Math.cos(th),Math.SQRT2*Math.sin(th)];
}

function skyPanel(){
  const canvas = makeCanvas(colX[0],789,540,270,PAD);
  const sky = {
    id:'sky',
    beforeDatasetsDraw(chart){
      const {ctx,chartArea:a,scales:{x,y}} = chart;
      const px = p=>[x.getPixelForValue(p[0]),y.getPixelForValue(p[1])];
      const cx = (a.left+a.right)/2, cy = (a.top+a.bottom)/2;
      ctx.save();
      ctx.beginPath();ctx.ellipse(cx,cy,(a.right-a.left)/2,(a.bottom-a.top)/2,0,0,2*Math.PI);ctx.clip();
      levelsSky.forEach((r,j)=>r.forEach((l,i)=>{
        const la0 = latEdges[j], la1 = latEdges[j+1], lo0 = alphaEdges[i], lo1 = alphaEdges[i+1];
        ctx.beginPath();
        for(let s=0;s<=6;s++){const p = px(mollweide(lo0,la0+(la1-la0)*s/6)); s?ctx.lineTo(p[0],p[1]):ctx.moveTo(p[0],p[1]);}
        for(let s=6;s>=0;s--){const p = px(mollweide(lo1,la0+(la1-la0)*s/6)); ctx.lineTo(p[0],p[1]);}
        ctx.closePath();
        ctx.fillStyle = ctx.strokeStyle = levelColor(l);
        ctx.lineWidth = 0.8;
        ctx.fill();ctx.stroke();
      }));
      // grid
      ctx.strokeStyle = 'rgba(0,0,0,0.34)';ctx.lineWidth = 2.8;
      skyLatTicks.forEach(lat=>{
        const p0 = px(mollweide(-180,lat)), p1 = px(mollweide(180,lat));
        ctx.beginPath();ctx.moveTo(p0[0],p0[1]);ctx.lineTo(p1[0],p1[1]);ctx.stroke();
      });
      skyLonTicks.forEach(lon=>{
        ctx.beginPath();
        for(let la=-75;la<=75;la+=5){const p = px(mollweide(lon,la)); la===-75?ctx.moveTo(p[0],p[1]):ctx.lineTo(p[0],p[1]);}
        ctx.stroke();
      });
      ctx.restore();
      ctx.strokeStyle = '#000';ctx.lineWidth = LW;
      ctx.beginPath();ctx.ellipse(cx,cy,(a.right-a.left)/2,(a.bottom-a.top)/2,0,0,2*Math.PI);ctx.stroke();
      // labels
      ctx.fillStyle = '#000';ctx.font = TICK_FONT+'px '+FONT;
      ctx.textAlign = 'center';ctx.textBaseline = 'middle';
      skyLonTicks.forEach((lon,i)=>{
        const p = px(mollweide(lon,0));
        ctx.fillText(skyLonLabels[i],p[0],p[1]-19);
      });
      ctx.textAlign = 'right';
      skyLatTicks.forEach((lat,i)=>{
        const p = mollweide(-180,lat);
        const q = px([p[0],p[1]*1.09]);
        ctx.fillText(skyLatLabels[i],px(p)[0]-(Math.abs(lat)===75?6:9.5),q[1]);
      });
    }
  };
  new Chart(canvas,{
    type:'scatter',
    data:{datasets:[]},
    options:{
      responsive:false,animation:false,devicePixelRatio:1,
      layout:{padding:{top:PAD.t,right:PAD.r,left:PAD.l,bottom:PAD.b}},
      plugins:{legend:{display:false},tooltip:{enabled:false}},
      events:[],
      scales:{
        x:{type:'linear',display:false,min:-2*Math.SQRT2,max:2*Math.SQRT2},
        y:{type:'linear',display:false,min:-Math.SQRT2,max:Math.SQRT2}
      }
    },
    plugins:[sky]
  });
}

function colorbar(){
  const pad = {l:24,t:24,r:110,b:24};
  const canvas = makeCanvas(2574,rowY[3],26,ROW_H,pad);
  const strip = {
    id:'strip',
    beforeDatasetsDraw(chart){
      const {ctx,chartArea:a,scales:{y}} = chart;
      for(let i=0;i<256;i++){
        const v0 = 1e-6*Math.pow(1000,i/256), v1 = 1e-6*Math.pow(1000,(i+1)/256);
        const p0 = y.getPixelForValue(v0), p1 = y.getPixelForValue(v1);
        ctx.fillStyle = levelColor((i+0.5)/256*100);
        ctx.fillRect(a.left,Math.floor(p1),a.right-a.left,Math.ceil(p0)-Math.floor(p1));
      }
    }
  };
  new Chart(canvas,{
    type:'scatter',
    data:{datasets:[]},
    options:{
      responsive:false,animation:false,devicePixelRatio:1,
      layout:{padding:{top:pad.t,right:0,left:pad.l,bottom:pad.b}},
      plugins:{legend:{display:false},tooltip:{enabled:false}},
      events:[],
      scales:{
        x:{type:'linear',display:false,min:0,max:1},
        y:axis('right',1e-6,1e-3,logTicks,null,'logarithmic',pad)
      }
    },
    plugins:[strip,framePlugin]
  });
}

function label(html,x,y,vertical){
  const d = document.createElement('div');
  d.className = 'lab'+(vertical?' v':'');
  d.innerHTML = html;
  d.style.left = x+'px'; d.style.top = y+'px';
  page.appendChild(d);
}

// diagonal curves
curvePanel(0,0,alphaBins,alphaProb,-194,194,alphaTicks,alphaLabels);
curvePanel(1,1,deltaBins,deltaProb,-98.2,97.7,deltaTicks,deltaLabels);
curvePanel(2,2,dsBins,dsProb,-0.39,20.87,dsXTicks,dsXLabels);
curvePanel(3,3,magBins,magProb,9.55,22,magXTicks,magXLabels);

skyPanel();

heatPanel(0,2,alphaEdges,dsRowsA,levelsAlphaDs,spikesAlphaDs,[-176.6,176.6],[0.6,19.9],alphaTicks,alphaLabels,dsYTicks,dsYLabels);
heatPanel(1,2,deltaEdges,dsRowsB,levelsDeltaDs,spikesDeltaDs,[-89.5,89.5],[0.6,19.9],deltaTicks,deltaLabels,dsYTicks,dsYLabels);
heatPanel(0,3,alphaEdges,magRows,levelsAlphaMag,spikesAlphaMag,[-176.6,176.6],[10.11,21.5],alphaTicks,alphaLabels,magYTicks,magYLabels);
heatPanel(1,3,deltaEdges,magRows,levelsDeltaMag,spikesDeltaMag,[-89.5,89.5],[10.11,21.5],deltaTicks,deltaLabels,magYTicks,magYLabels);
heatPanel(2,3,dsCols,magRows,levelsDsMag,spikesDsMag,[0.6,19.87],[10.11,21.5],dsHeatTicks,dsHeatLabels,magYTicks,magYLabels);

colorbar();

label('<i>P<sub>star</sub></i>',46,293,true);
label('<i>δ</i> (deg)',65,922,true);
label('<i>D<sub>s</sub></i> (kpc)',48,1553,true);
label('<i>m<sub>G</sub></i>',80,2155,true);
label('<i>α</i> (deg)',445,2532);
label('<i>δ</i> (deg)',1090,2532);
label('<i>D<sub>s</sub></i> (kpc)',1738,2532);
label('<i>m<sub>G</sub></i>',2331,2532);
</script>
</body>
</html>
